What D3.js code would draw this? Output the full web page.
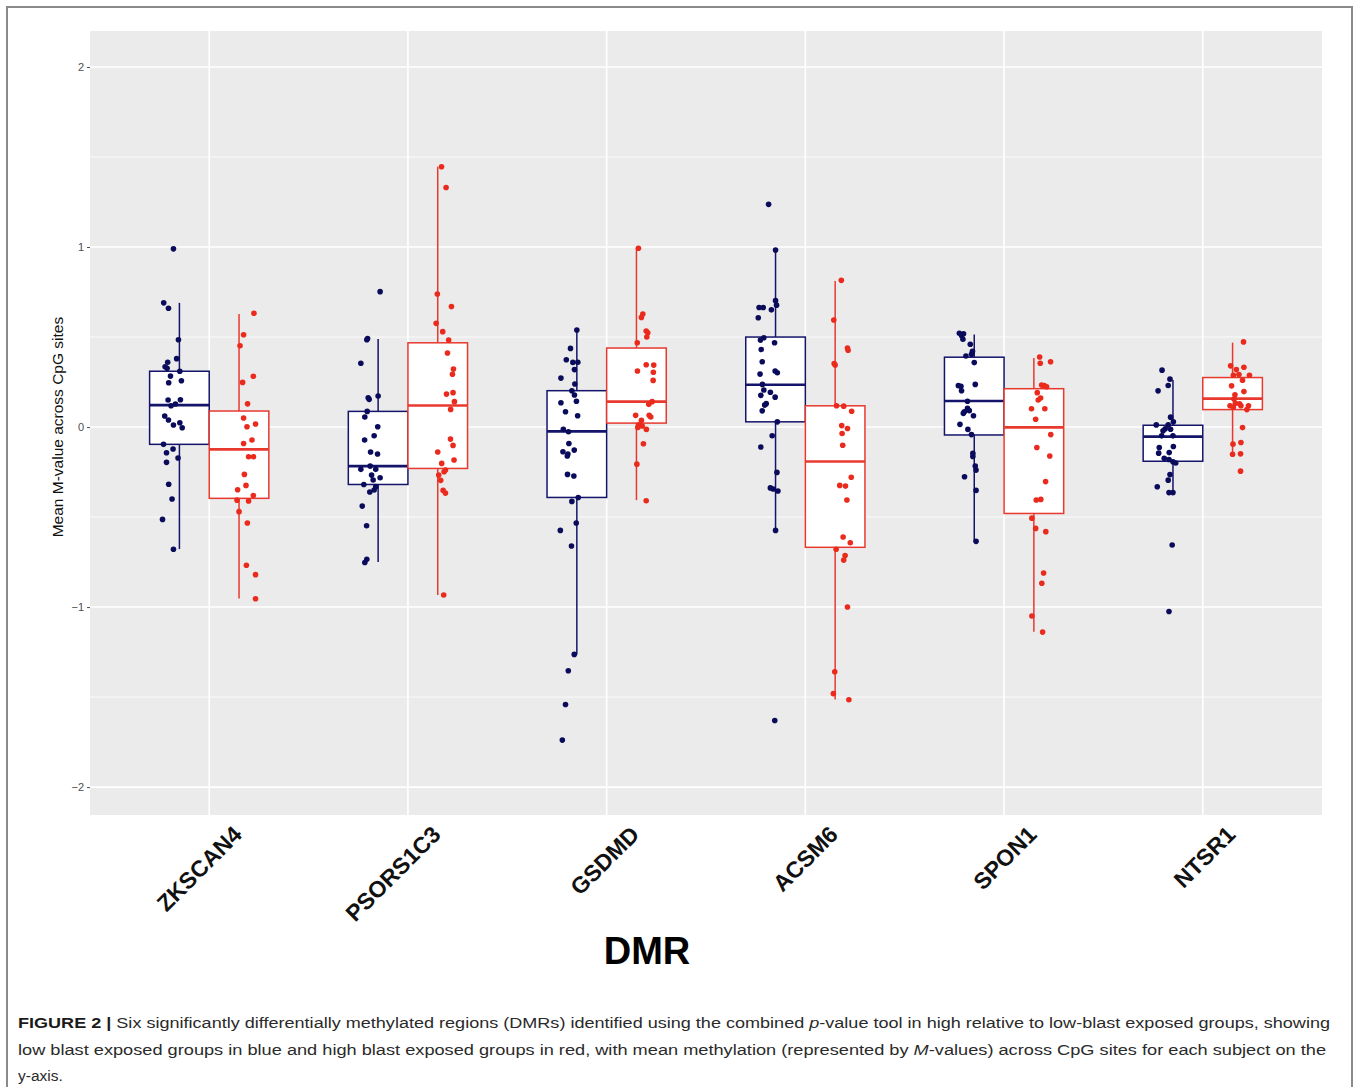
<!DOCTYPE html>
<html lang="en">
<head>
  <meta charset="UTF-8">
  <title>DMR boxplots</title>
  <script src="https://cdnjs.cloudflare.com/ajax/libs/d3/7.8.5/d3.min.js"></script>
  <style>
    body { margin: 0; background: #fff; }
    svg { display: block; }
  </style>
</head>
<body>

<script>
  // categories (x axis)
  var categories = ['ZKSCAN4', 'PSORS1C3', 'GSDMD', 'ACSM6', 'SPON1', 'NTSR1'];
  var yTicks = [-2, -1, 0, 1, 2];

  // box stats per category: [lower whisker, q1, median, q3, upper whisker]
  var lowBox = [
    [-0.678, -0.096, 0.122, 0.310, 0.690],
    [-0.750, -0.319, -0.217, 0.087, 0.489],
    [-1.263, -0.391, -0.024, 0.202, 0.539],
    [-0.574, 0.029, 0.235, 0.500, 0.983],
    [-0.634, -0.044, 0.145, 0.388, 0.514],
    [-0.364, -0.190, -0.053, 0.010, 0.262]
  ];
  var highBox = [
    [-0.952, -0.396, -0.124, 0.089, 0.628],
    [-0.933, -0.230, 0.120, 0.468, 1.446],
    [-0.406, 0.022, 0.141, 0.439, 0.993],
    [-1.513, -0.668, -0.191, 0.118, 0.811],
    [-1.137, -0.480, -0.002, 0.213, 0.383],
    [-0.151, 0.097, 0.158, 0.275, 0.469]
  ];

  // subjects per category: [jitter (x units), mean M-value]
  var lowPoints = [
    [[-0.03,0.99],[-0.079,0.69],[-0.055,0.66],[-0.005,0.485],[-0.059,0.36],[-0.014,0.38],[-0.072,0.335],[-0.062,0.326],
     [0.002,0.31],[-0.045,0.283],[-0.054,0.246],[0.01,0.257],[-0.057,0.15],[0.005,0.152],[-0.02,0.128],[-0.042,0.118],
     [-0.074,0.061],[-0.055,0.039],[-0.03,0.011],[0.002,0.024],[0.014,-0.004],[-0.08,-0.096],[-0.032,-0.122],[-0.065,-0.143],
     [-0.007,-0.172],[-0.065,-0.196],[-0.054,-0.318],[-0.037,-0.40],[-0.085,-0.513],[-0.03,-0.679]],
    [[0.01,0.752],[-0.057,0.485],[-0.053,0.492],[-0.087,0.354],[-0.05,0.163],[-0.045,0.154],[0,0.172],[-0.055,0.087],
     [-0.067,0.056],[-0.002,0.002],[-0.02,-0.048],[-0.068,-0.072],[-0.038,-0.139],[-0.003,-0.15],[-0.04,-0.217],[-0.087,-0.235],
     [-0.012,-0.235],[-0.033,-0.267],[-0.025,-0.294],[0.01,-0.282],[-0.072,-0.319],[-0.012,-0.331],[-0.042,-0.361],[-0.02,-0.35],
     [-0.08,-0.439],[-0.058,-0.548],[-0.057,-0.735],[-0.067,-0.752]],
    [[0,0.539],[-0.032,0.437],[-0.053,0.374],[-0.02,0.359],[0.005,0.36],[-0.012,0.319],[-0.08,0.272],[-0.01,0.239],
     [-0.025,0.202],[-0.012,0.178],[-0.002,0.143],[-0.08,0.135],[-0.057,0.085],[0.004,0.063],[-0.068,-0.013],[-0.042,-0.026],
     [-0.04,-0.091],[-0.07,-0.137],[-0.045,-0.15],[-0.048,-0.161],[-0.013,-0.128],[-0.047,-0.263],[-0.015,-0.272],[0.007,-0.391],
     [-0.025,-0.413],[-0.003,-0.533],[-0.083,-0.574],[-0.027,-0.661],[-0.013,-1.263],[-0.043,-1.354],[-0.057,-1.541],[-0.073,-1.739]],
    [[-0.035,1.237],[0,0.983],[0,0.702],[0.005,0.677],[-0.083,0.664],[-0.062,0.664],[-0.021,0.651],[-0.087,0.607],
     [-0.076,0.483],[-0.059,0.496],[-0.005,0.468],[-0.072,0.431],[-0.067,0.363],[-0.078,0.294],[-0.002,0.311],[0.009,0.302],
     [-0.066,0.237],[-0.059,0.206],[-0.026,0.193],[-0.074,0.176],[-0.002,0.166],[-0.047,0.13],[-0.055,0.122],[-0.067,0.09],
     [0.009,0.029],[-0.017,-0.048],[-0.074,-0.111],[0.007,-0.252],[-0.026,-0.338],[-0.012,-0.344],[0.012,-0.355],[0,-0.574],[-0.004,-1.63]],
    [[-0.075,0.521],[-0.054,0.518],[-0.064,0.508],[-0.057,0.488],[-0.02,0.46],[-0.009,0.421],[-0.014,0.404],[-0.042,0.395],
     [0,0.358],[0.005,0.237],[-0.08,0.23],[-0.067,0.226],[-0.064,0.202],[-0.034,0.143],[-0.034,0.104],[-0.05,0.085],
     [-0.055,0.076],[-0.004,0.063],[-0.025,0.091],[-0.072,0.015],[-0.032,-0.013],[-0.014,-0.042],[-0.007,-0.146],[-0.007,-0.163],
     [0.005,-0.216],[0.009,-0.239],[-0.049,-0.276],[0.009,-0.352],[0.009,-0.635]],
    [[-0.055,0.316],[-0.015,0.266],[-0.024,0.231],[-0.075,0.201],[-0.012,0.055],[0.002,0.029],[-0.084,0.012],[-0.024,0.012],
     [-0.039,-0.01],[-0.05,-0.021],[-0.012,-0.012],[-0.057,-0.049],[0,-0.049],[-0.069,-0.114],[0.002,-0.108],[-0.072,-0.145],
     [-0.019,-0.142],[-0.044,-0.173],[-0.02,-0.18],[0,-0.193],[0.014,-0.2],[-0.015,-0.264],[-0.024,-0.295],[-0.079,-0.332],
     [-0.02,-0.364],[0,-0.364],[-0.004,-0.655],[-0.02,-1.025]]
  ];
  var highPoints = [
    [[0.075,0.632],[0.023,0.513],[0.005,0.452],[0.072,0.282],[0.018,0.248],[0.043,0.129],[0.023,0.05],[0.04,0.002],
     [0.083,0.017],[0.065,-0.072],[0.023,-0.091],[0.048,-0.165],[0.073,-0.165],[0.027,-0.263],[0.035,-0.324],[-0.007,-0.348],
     [0.072,-0.38],[-0.01,-0.406],[0.048,-0.411],[0,-0.47],[0.042,-0.533],[0.037,-0.768],[0.083,-0.82],[0.083,-0.954]],
    [[0.019,1.446],[0.042,1.331],[-0.002,0.739],[0.069,0.67],[-0.008,0.576],[0.025,0.53],[0.055,0.483],[0.049,0.411],
     [0.079,0.322],[0.074,0.293],[0.044,0.183],[0.077,0.191],[0.084,0.141],[0.065,0.098],[0.064,-0.067],[0.077,-0.102],
     [0,-0.139],[0.082,-0.183],[0.02,-0.202],[0.039,-0.239],[0.032,-0.248],[0.005,-0.267],[0.015,-0.296],[0.027,-0.352],
     [0.039,-0.367],[0.03,-0.933]],
    [[0.01,0.993],[0.032,0.628],[0.025,0.609],[0.049,0.533],[0.057,0.524],[0.052,0.5],[0.004,0.468],[0.049,0.346],
     [0.087,0.344],[0.005,0.311],[0.085,0.304],[0.084,0.259],[0.079,0.141],[0.062,0.126],[-0.004,0.065],[0.064,0.065],
     [0.072,0.056],[0.025,0.037],[0.012,0.013],[0.029,0.006],[0.05,-0.013],[0.007,-0.002],[0.035,-0.093],[0.002,-0.206],[0.049,-0.409]],
    [[0.031,0.815],[-0.007,0.595],[0.062,0.439],[0.065,0.427],[-0.005,0.353],[0,0.344],[0.007,0.118],[0.043,0.116],
     [0.083,0.088],[0.033,0.008],[0.062,-0.008],[0.035,-0.036],[0.038,-0.101],[0.081,-0.279],[0.023,-0.324],[0.052,-0.328],
     [0.059,-0.405],[0.04,-0.611],[0.076,-0.643],[0.005,-0.679],[0.05,-0.714],[0.043,-0.739],[0.062,-1.0],[-0.002,-1.359],
     [-0.009,-1.481],[0.069,-1.515]],
    [[0.029,0.389],[0.032,0.354],[0.084,0.363],[0.039,0.233],[0.052,0.23],[0.064,0.224],[0.017,0.191],[0.034,0.161],
     [0.022,0.15],[-0.012,0.102],[0.055,0.102],[0.009,0.043],[0.085,-0.042],[0.015,-0.114],[0.08,-0.161],[0.059,-0.303],
     [0.012,-0.405],[0.035,-0.402],[-0.01,-0.506],[0.009,-0.563],[0.06,-0.581],[0.049,-0.811],[0.04,-0.868],[-0.01,-1.05],[0.044,-1.139]],
    [[0.055,0.473],[-0.01,0.34],[0.019,0.319],[0.057,0.332],[0.004,0.288],[0.032,0.292],[0.085,0.288],[0.05,0.26],
     [-0.005,0.229],[0.057,0.197],[0.012,0.179],[0.007,0.156],[0.014,0.132],[-0.013,0.118],[0.035,0.129],[0.042,0.118],
     [0.08,0.118],[0.004,0.11],[0.072,0.097],[0.05,-0.003],[0.002,-0.095],[0.042,-0.086],[0,-0.151],[0.04,-0.149],[0.04,-0.245]]
  ];

  var W = 1360, H = 1087;
  var panel = {left: 90, right: 1322, top: 31, bottom: 815};
  var lowColor = '#14146b', lowDot = '#0b0b5c';
  var highColor = '#e8392f', highDot = '#ea2a1c';

  var svg = d3.select('body').append('svg').attr('width', W).attr('height', H)
    .style('font-family', 'Liberation Sans, Arial, sans-serif');

  // outer frame
  svg.append('rect').attr('x', 7).attr('y', 7).attr('width', 1345).attr('height', 1100)
    .attr('fill', 'none').attr('stroke', '#8a8a8a').attr('stroke-width', 2);

  var x = d3.scaleLinear().domain([0.4, categories.length + 0.6]).range([panel.left, panel.right]);
  var y = d3.scaleLinear().domain([-2.155, 2.2]).range([panel.bottom, panel.top]);

  svg.append('rect').attr('x', panel.left).attr('y', panel.top)
    .attr('width', panel.right - panel.left).attr('height', panel.bottom - panel.top)
    .attr('fill', '#ebebeb');

  // grid
  var minor = [-1.5, -0.5, 0.5, 1.5];
  svg.selectAll('.minor').data(minor).enter().append('line')
    .attr('x1', panel.left).attr('x2', panel.right)
    .attr('y1', function(d){ return y(d) }).attr('y2', function(d){ return y(d) })
    .attr('stroke', '#fff').attr('stroke-width', 0.8);
  svg.selectAll('.major').data(yTicks).enter().append('line')
    .attr('x1', panel.left).attr('x2', panel.right)
    .attr('y1', function(d){ return y(d) }).attr('y2', function(d){ return y(d) })
    .attr('stroke', '#fff').attr('stroke-width', 1.6);
  svg.selectAll('.vmajor').data(categories).enter().append('line')
    .attr('x1', function(d,i){ return x(i + 1) }).attr('x2', function(d,i){ return x(i + 1) })
    .attr('y1', panel.top).attr('y2', panel.bottom)
    .attr('stroke', '#fff').attr('stroke-width', 1.6);

  // y axis
  var yAxis = svg.append('g').attr('transform', 'translate(' + panel.left + ',0)')
    .call(d3.axisLeft(y).tickValues(yTicks).tickSize(3).tickPadding(3).tickFormat(d3.format('d')));
  yAxis.select('.domain').remove();
  yAxis.selectAll('line').attr('stroke', '#4d4d4d');
  yAxis.selectAll('text').attr('fill', '#4d4d4d').style('font-size', '11px')
    .style('font-family', 'Liberation Sans, Arial, sans-serif');

  svg.append('text').attr('transform', 'translate(63,' + y(0) + ') rotate(-90)')
    .attr('text-anchor', 'middle').style('font-size', '15.5px').attr('fill', '#111')
    .text('Mean M-value across CpG sites');

  // x labels
  svg.selectAll('.xlab').data(categories).enter().append('text')
    .attr('transform', function(d,i){ return 'translate(' + (x(i + 1) + 34) + ',836) rotate(-45)' })
    .attr('text-anchor', 'end').style('font-size', '23px').style('font-weight', 'bold')
    .attr('fill', '#111').text(function(d){ return d });

  svg.append('text').attr('x', 647).attr('y', 964).attr('text-anchor', 'middle')
    .style('font-size', '38px').style('font-weight', 'bold').attr('fill', '#000').text('DMR');

  // boxes
  var half = 0.15;
  function drawGroup(boxes, pts, shift, color, dot) {
    var g = svg.append('g');
    boxes.forEach(function(b, i){
      var cx = i + 1 + shift;
      g.append('line').attr('x1', x(cx)).attr('x2', x(cx)).attr('y1', y(b[4])).attr('y2', y(b[0]))
        .attr('stroke', color).attr('stroke-width', 1.5);
      g.append('rect').attr('x', x(cx - half)).attr('width', x(cx + half) - x(cx - half))
        .attr('y', y(b[3])).attr('height', y(b[1]) - y(b[3]))
        .attr('fill', '#fff').attr('stroke', color).attr('stroke-width', 1.5);
      g.append('line').attr('x1', x(cx - half)).attr('x2', x(cx + half))
        .attr('y1', y(b[2])).attr('y2', y(b[2]))
        .attr('stroke', color).attr('stroke-width', 2.6);
    });
    pts.forEach(function(list, i){
      var cx = i + 1 + shift;
      g.selectAll(null).data(list).enter().append('circle')
        .attr('cx', function(d){ return x(cx + d[0]) })
        .attr('cy', function(d){ return y(d[1]) })
        .attr('r', 2.8).attr('fill', dot);
    });
  }
  drawGroup(lowBox, lowPoints, -0.15, lowColor, lowDot);
  drawGroup(highBox, highPoints, 0.15, highColor, highDot);

  // caption
  var cap = svg.append('g').style('font-family', 'Liberation Sans Narrow, Liberation Sans, Arial, sans-serif')
    .style('font-size', '15.5px').attr('fill', '#2a2a2a');
  var l1 = cap.append('text').attr('x', 18).attr('y', 1028).attr('textLength', 1312).attr('lengthAdjust', 'spacingAndGlyphs');
  l1.append('tspan').style('font-weight', 'bold').attr('fill', '#1a1a1a').text('FIGURE 2 | ');
  l1.append('tspan').text('Six significantly differentially methylated regions (DMRs) identified using the combined ');
  l1.append('tspan').style('font-style', 'italic').text('p');
  l1.append('tspan').text('-value tool in high relative to low-blast exposed groups, showing');
  var l2 = cap.append('text').attr('x', 18).attr('y', 1055).attr('textLength', 1308).attr('lengthAdjust', 'spacingAndGlyphs');
  l2.append('tspan').text('low blast exposed groups in blue and high blast exposed groups in red, with mean methylation (represented by ');
  l2.append('tspan').style('font-style', 'italic').text('M');
  l2.append('tspan').text('-values) across CpG sites for each subject on the');
  cap.append('text').attr('x', 18).attr('y', 1081).text('y-axis.');
</script>

</body>
</html>
